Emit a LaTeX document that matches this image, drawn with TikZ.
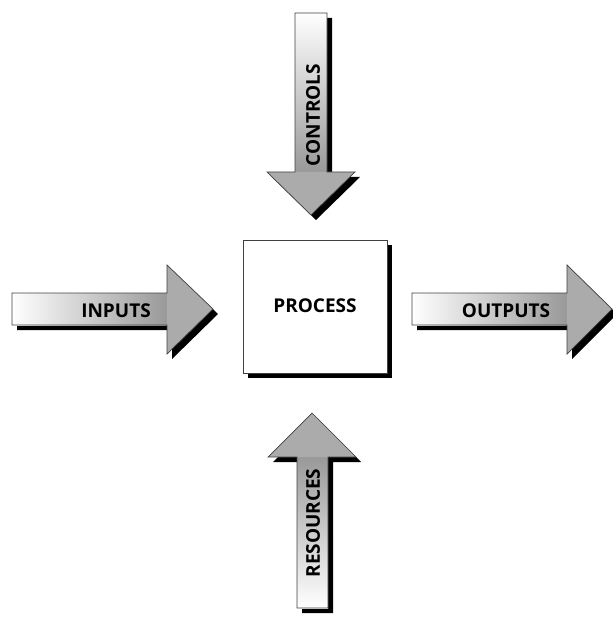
\documentclass[tikz,border=0pt]{standalone}
\usepackage{fontspec}
\setmainfont{Open Sans}
\begin{document}
\begin{tikzpicture}[x=1pt,y=-1pt,
  outl/.style={draw=black!75,line width=0.7pt,line join=miter},
  shad/.style={fill=black},
  headfill/.style={fill=black!33},
  lbl/.style={font=\bfseries\fontsize{19}{22}\selectfont,inner sep=0pt}]
\useasboundingbox (0,0) rectangle (612,617);
% ---------- PROCESS box
\fill[shad] (248,245) rectangle (392,378);
\node[outl,fill=white,minimum width=144pt,minimum height=133pt,inner sep=0pt,anchor=north west] (proc) at (243,240) {};
\node[lbl] (proctext) at (315,306) {PROCESS};
% ---------- INPUTS arrow
\fill[shad,shift={(5,5)}] (12,293)--(167,293)--(167,265)--(213,309)--(167,354)--(167,325)--(12,325)--cycle;
\shade[left color=white,right color=black!40] (12,293) rectangle (167,325);
\fill[headfill] (167,265)--(213,309)--(167,354)--cycle;
\draw[outl] (12,293)--(167,293)--(167,265)--(213,309)--(167,354)--(167,325)--(12,325)--cycle;
\node[lbl] (inputs) at (116,311) {INPUTS};
% ---------- OUTPUTS arrow
\fill[shad,shift={(5,5)}] (412,293)--(567,293)--(567,265)--(612,309)--(567,354)--(567,325)--(412,325)--cycle;
\shade[left color=white,right color=black!40] (412,293) rectangle (567,325);
\fill[headfill] (567,265)--(612,309)--(567,354)--cycle;
\draw[outl] (412,293)--(567,293)--(567,265)--(612,309)--(567,354)--(567,325)--(412,325)--cycle;
\node[lbl] (outputs) at (506,311) {OUTPUTS};
% ---------- CONTROLS arrow
\fill[shad,shift={(5,5)}] (295,13)--(327,13)--(327,172)--(355,172)--(311,215)--(267,172)--(295,172)--cycle;
\shade[top color=white,bottom color=black!40] (295,13) rectangle (327,172);
\fill[headfill] (355,172)--(311,215)--(267,172)--cycle;
\draw[outl] (295,13)--(327,13)--(327,172)--(355,172)--(311,215)--(267,172)--(295,172)--cycle;
\node[lbl,rotate=90] (controls) at (313,115) {CONTROLS};
% ---------- RESOURCES arrow
\fill[shad,shift={(5,5)}] (297,608)--(328,608)--(328,457)--(356,457)--(312,413)--(268,457)--(297,457)--cycle;
\shade[bottom color=white,top color=black!40] (297,457) rectangle (328,608);
\fill[headfill] (356,457)--(312,413)--(268,457)--cycle;
\draw[outl] (297,608)--(328,608)--(328,457)--(356,457)--(312,413)--(268,457)--(297,457)--cycle;
\node[lbl,rotate=90] (resources) at (313,523) {RESOURCES};
\end{tikzpicture}
\end{document}
